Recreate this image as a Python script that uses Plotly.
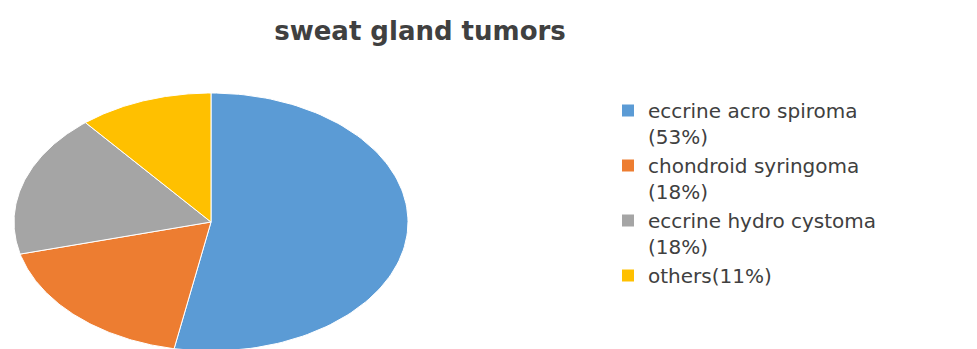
import numpy as np
import plotly.graph_objects as go

# ---- data ----
categories = ["eccrine acro spiroma", "chondroid syringoma", "eccrine hydro cystoma", "others"]
legend_labels = ["eccrine acro spiroma<br>(53%)", "chondroid syringoma<br>(18%)",
                 "eccrine hydro cystoma<br>(18%)", "others(11%)"]
values = [53, 18, 18, 11]
colors = ["#5B9BD5", "#ED7D31", "#A5A5A5", "#FFC000"]
title_text = "sweat gland tumors"

W, H = 977, 349
fig = go.Figure()

# pie slices (clockwise from 12 o'clock), built from the values
total = float(sum(values))
cum = np.concatenate([[0.0], np.cumsum(values) / total])
for i, cat in enumerate(categories):
    f = np.linspace(cum[i], cum[i + 1], 120)
    xs = np.concatenate([[0.0], np.sin(2 * np.pi * f), [0.0]])
    ys = np.concatenate([[0.0], np.cos(2 * np.pi * f), [0.0]])
    fig.add_trace(go.Scatter(x=xs, y=ys, mode="lines", fill="toself",
                             fillcolor=colors[i], line=dict(color="white", width=1),
                             name=cat, showlegend=False, hoverinfo="name"))

# legend entries
for i, lab in enumerate(legend_labels):
    fig.add_trace(go.Scatter(x=[None], y=[None], mode="markers",
                             marker=dict(symbol="square", size=12, color=colors[i]),
                             name=lab, showlegend=True))

# geometry of the (horizontally stretched) pie
cx, cy, rx, ry = 211, 222, 197, 129
dom_x = [0.0, 0.45]
px_right = dom_x[1] * W
top_px = 88
dom_y = [0.0, 1 - top_px / H]
xr = [-cx / rx, (px_right - cx) / rx]
yr = [-(H - cy) / ry, (cy - top_px) / ry]

fig.update_layout(
    width=W, height=H,
    margin=dict(l=0, r=0, t=0, b=0),
    paper_bgcolor="white", plot_bgcolor="white",
    xaxis=dict(domain=dom_x, range=xr, visible=False, fixedrange=True),
    yaxis=dict(domain=dom_y, range=yr, visible=False, fixedrange=True),
    title=dict(text="<b>" + title_text + "</b>", x=420 / W, xanchor="center",
               y=1 - 31 / H, yanchor="middle",
               font=dict(family="DejaVu Sans", size=26, color="#404040")),
    legend=dict(x=608 / W, xanchor="left", y=1 - 91 / H, yanchor="top",
                valign="top", font=dict(family="DejaVu Sans", size=20, color="#404040"),
                bgcolor="rgba(0,0,0,0)", tracegroupgap=0),
    showlegend=True,
)

fig.write_html("out.html")
